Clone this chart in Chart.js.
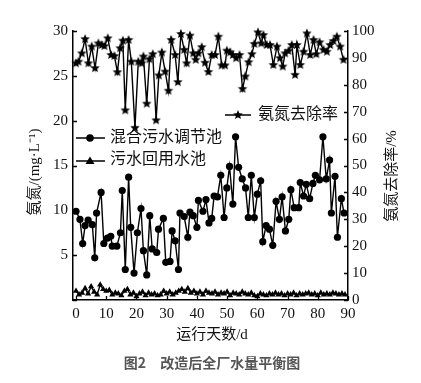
<!DOCTYPE html>
<html><head><meta charset="utf-8">
<script src="https://cdn.jsdelivr.net/npm/chart.js@4"></script>
<style>html,body{margin:0;padding:0;background:#fff;}#wrap{width:421px;height:383px;}</style>
</head><body><div id="wrap"><canvas id="c" width="421" height="383"></canvas></div>
<script>
// ---- data ----
const removalDays = [0,0.8,1.9,3,4.1,5.2,6.3,7.4,8.5,9.4,10.5,11.6,12.7,13.7,14.6,15.5,16.3,17.4,18.3,19.5,20.6,21.7,22.3,23.4,24.3,25.4,26.5,27.4,28.4,29.5,30.6,31.5,32.8,33.7,34.7,35.8,36.6,37.7,38.8,39.6,40.5,41.6,42.7,43.8,44.9,46,47.1,48.2,49.3,49.9,51,51.9,53,54.1,55.1,56,57.1,58.2,59,60.2,61.3,62,63.1,64.2,65.3,66.5,67.5,68.4,69.2,70.3,71.4,72.5,73.1,74.2,75.3,76.4,77.5,78.6,79.5,80.6,81.9,83,84.1,85.2,86.3,87.4,88.5];
const removalRate = [88.0,88.6,91.7,97.0,88.0,94.2,86.2,95.4,94.8,94.4,97.3,91.1,90.7,84.7,93.6,96.4,70.5,96.7,88.6,64.0,88.6,88.0,90.5,73.0,89.5,91.4,66.8,83.5,92.0,84.9,77.8,96.7,91.1,81.0,98.9,93.0,88.0,98.3,91.7,89.3,91.7,94.0,88.2,84.8,91.1,91.1,97.9,87.2,87.2,92.7,92.1,91.1,89.9,91.1,78.5,83.1,88.4,91.4,95.2,99.5,95.4,98.5,94.8,94.8,87.4,94.2,89.9,86.8,91.7,92.6,94.8,83.7,94.8,87.4,92.3,99.1,91.1,96.7,91.4,95.8,93.0,92.3,94.8,96.3,97.9,94.2,89.3];

const mixDays = [0,1.3,2.2,3,4,5.4,6.2,6.8,8.3,9.2,10.4,11.5,12,13.5,14.7,15.3,16.3,17.4,18.1,19.2,20.3,21.5,22.3,23.4,24.4,25.2,26.7,27.3,28.9,29.7,31.1,31.8,32.8,33.9,34.4,35.8,37,37.7,38.8,40,40.5,42,43,44,44.9,45.7,46.8,47.9,49,49.9,50.8,51.9,52.8,53.8,55,56.1,57,58,59,60,61.1,61.8,62.9,64,65.1,66.2,67.3,68.2,69.3,70.4,71.1,72.2,73.7,74.2,75.3,76.2,77.3,78.4,79.2,80.6,81.7,82.8,83.9,84.5,85.7,86.5,87.8,88.7];
const mixValues = [9.9,9.0,6.3,8.3,8.9,8.4,4.7,9.7,12.0,6.3,6.9,7.1,6.0,6.0,7.5,12.2,3.4,13.7,8.1,3.0,7.5,10.2,5.5,2.8,9.4,5.7,5.3,7.9,9.1,4.2,4.3,7.7,6.6,3.4,9.7,9.3,7.0,9.8,9.4,8.1,11.1,9.9,11.2,8.6,9.1,11.6,11.5,13.9,9.2,12.5,14.9,10.7,18.2,14.8,13.5,12.5,9.2,13.9,9.2,11.8,13.3,6.5,8.3,7.9,6.1,11.0,9.0,11.5,7.7,9.0,12.3,10.3,10.3,13.1,11.6,12.9,11.3,13.0,13.9,13.4,18.2,13.5,15.6,9.7,13.8,7.0,11.3,9.7];

const reuseDays = [0,1,2,3,4,5,6,7,8,9,10,11,12,13,14,15,16,17,18,19,20,21,22,23,24,25,26,27,28,29,30,31,32,33,34,35,36,37,38,39,40,41,42,43,44,45,46,47,48,49,50,51,52,53,54,55,56,57,58,59,60,61,62,63,64,65,66,67,68,69,70,71,72,73,74,75,76,77,78,79,80,81,82,83,84,85,86,87,88,89];
const reuseValues = [1.0,0.6,0.8,1.3,0.7,1.5,0.9,0.6,1.7,1.2,
  1.0,1.1,0.6,0.8,0.7,0.5,1.0,1.2,0.6,0.8,
  0.4,0.7,0.9,0.5,0.8,0.6,0.7,0.5,0.6,1.0,
  0.7,0.9,0.6,0.8,1.0,1.2,0.9,1.3,0.8,1.0,
  0.7,0.9,0.6,1.0,0.8,0.7,0.9,0.6,0.8,0.7,
  0.9,0.5,0.8,0.7,0.6,0.9,0.7,0.6,0.8,0.5,
  0.4,0.7,0.6,0.5,0.7,0.6,0.8,0.6,0.7,0.5,
  0.7,0.6,0.8,0.5,0.7,0.6,0.7,0.8,0.6,0.7,
  0.5,0.8,0.6,0.7,0.6,0.8,0.7,0.6,0.7,0.6];

const xTicks = [0,10,20,30,40,50,60,70,80,90];
const leftTicks = [0,5,10,15,20,25,30];
const rightTicks = [0,10,20,30,40,50,60,70,80,90,100];

const seriesNames = ['混合污水调节池','污水回用水池','氨氮去除率'];
const xTitle = '运行天数/d';
const leftTitle = '氨氮/(mg·L⁻¹)';
const rightTitle = '氨氮去除率/%';
const caption = '图2　改造后全厂水量平衡图';

// ---- helpers ----
function makeStar(r){
  const s = Math.ceil(r*2+2);
  const c = document.createElement('canvas'); c.width = s; c.height = s;
  const g = c.getContext('2d'); g.fillStyle = '#000'; g.beginPath();
  for (let i=0;i<10;i++){
    const rad = i%2===0 ? r : r*0.45;
    const a = -Math.PI/2 + i*Math.PI/5;
    g.lineTo(s/2+rad*Math.cos(a), s/2+rad*Math.sin(a));
  }
  g.closePath(); g.fill();
  return c;
}
const star = makeStar(5);
const pts = (xs, ys) => xs.map((x,i)=>({x:x, y:ys[i]}));
const serif = '"Liberation Serif","Noto Sans CJK SC",serif';
const tickFont = {family: serif, size: 15};

const overlay = {
  id: 'overlay',
  afterDraw(chart){
    const ctx = chart.ctx, a = chart.chartArea;
    const sx = chart.scales.x, sy = chart.scales.y, sr = chart.scales.y1;
    ctx.save();
    ctx.strokeStyle = '#000'; ctx.lineWidth = 1.3;
    ctx.beginPath();
    leftTicks.forEach(v=>{const y=Math.round(sy.getPixelForValue(v))+0.5; ctx.moveTo(a.left,y); ctx.lineTo(a.left+4,y);});
    rightTicks.forEach(v=>{const y=Math.round(sr.getPixelForValue(v))+0.5; ctx.moveTo(a.right,y); ctx.lineTo(a.right-4,y);});
    xTicks.forEach(v=>{const x=Math.round(sx.getPixelForValue(v))+0.5; ctx.moveTo(x,a.bottom); ctx.lineTo(x,a.bottom-4);});
    ctx.stroke();

    ctx.fillStyle = '#111';
    ctx.textAlign = 'center'; ctx.textBaseline = 'middle';
    // left title
    ctx.save(); ctx.translate(35, 172); ctx.rotate(-Math.PI/2);
    ctx.font = '15px ' + serif; ctx.fillText(leftTitle, 0, 0); ctx.restore();
    // right title
    ctx.save(); ctx.translate(392, 176); ctx.rotate(-Math.PI/2);
    ctx.font = '15px ' + serif; ctx.fillText(rightTitle, 0, 0); ctx.restore();
    // x title
    ctx.font = '15px ' + serif; ctx.fillText(xTitle, 212, 335);
    // caption
    ctx.fillStyle = '#555';
    ctx.font = 'bold 14px "Noto Sans CJK SC", sans-serif'; ctx.fillText(caption, 212, 363);

    // legend
    ctx.fillStyle = '#111'; ctx.strokeStyle = '#000'; ctx.lineWidth = 1.5;
    ctx.textAlign = 'left';
    ctx.font = '16px ' + serif;
    // star entry
    ctx.beginPath(); ctx.moveTo(225,115); ctx.lineTo(251,115); ctx.stroke();
    ctx.drawImage(star, 238-star.width/2, 115-star.height/2);
    ctx.fillText(seriesNames[2], 258, 115);
    // circle entry
    ctx.beginPath(); ctx.moveTo(76,138); ctx.lineTo(105,138); ctx.stroke();
    ctx.beginPath(); ctx.arc(90,138,3.8,0,Math.PI*2); ctx.fillStyle='#000'; ctx.fill();
    ctx.fillStyle = '#111'; ctx.fillText(seriesNames[0], 110, 138);
    // triangle entry
    ctx.beginPath(); ctx.moveTo(76,161); ctx.lineTo(105,161); ctx.stroke();
    ctx.beginPath(); ctx.moveTo(90,156.5); ctx.lineTo(94.5,164); ctx.lineTo(85.5,164); ctx.closePath(); ctx.fillStyle='#000'; ctx.fill();
    ctx.fillStyle = '#111'; ctx.fillText(seriesNames[1], 110, 160);
    ctx.restore();
  }
};

new Chart(document.getElementById('c'), {
  type: 'line',
  data: {
    datasets: [
      {label: seriesNames[0], data: pts(mixDays, mixValues), yAxisID: 'y', borderColor:'#000', borderWidth:1.4,
       pointStyle:'circle', pointRadius:3.6, pointBackgroundColor:'#000', pointBorderColor:'#000', pointBorderWidth:0, tension:0, clip:false},
      {label: seriesNames[1], data: pts(reuseDays, reuseValues), yAxisID: 'y', borderColor:'#000', borderWidth:1.4,
       pointStyle:'triangle', pointRadius:3.6, pointBackgroundColor:'#000', pointBorderColor:'#000', pointBorderWidth:0, tension:0, clip:false},
      {label: seriesNames[2], data: pts(removalDays, removalRate), yAxisID: 'y1', borderColor:'#000', borderWidth:1.4,
       pointStyle: star, pointRadius:5, pointBackgroundColor:'#000', pointBorderColor:'#000', tension:0, clip:false}
    ]
  },
  options: {
    responsive: false, animation: false, devicePixelRatio: 1,
    layout: {padding: {top: 31, left: 0, right: 0, bottom: 0}},
    plugins: {legend: {display:false}, tooltip: {enabled:false}},
    scales: {
      x: {type:'linear', min:-1, max:90,
          afterBuildTicks: s => { s.ticks = xTicks.map(v=>({value:v})); },
          afterFit: s => { s.height = 83; },
          grid: {display:false, drawTicks:false},
          border: {display:true, color:'#000', width:1.5},
          ticks: {font: tickFont, color:'#111', padding:5, maxRotation:0, autoSkip:false}},
      y: {position:'left', min:0, max:30,
          afterBuildTicks: s => { s.ticks = leftTicks.map(v=>({value:v})); },
          afterFit: s => { s.width = 73; },
          grid: {display:false, drawTicks:false},
          border: {display:true, color:'#000', width:1.5},
          ticks: {font: tickFont, color:'#111', padding:5, callback: v => v===0 ? '' : v}},
      y1: {position:'right', min:0, max:100,
          afterBuildTicks: s => { s.ticks = rightTicks.map(v=>({value:v})); },
          afterFit: s => { s.width = 73; },
          grid: {display:false, drawTicks:false},
          border: {display:true, color:'#000', width:1.5},
          ticks: {font: tickFont, color:'#111', padding:4}}
    }
  },
  plugins: [overlay]
});
</script>
</body></html>
